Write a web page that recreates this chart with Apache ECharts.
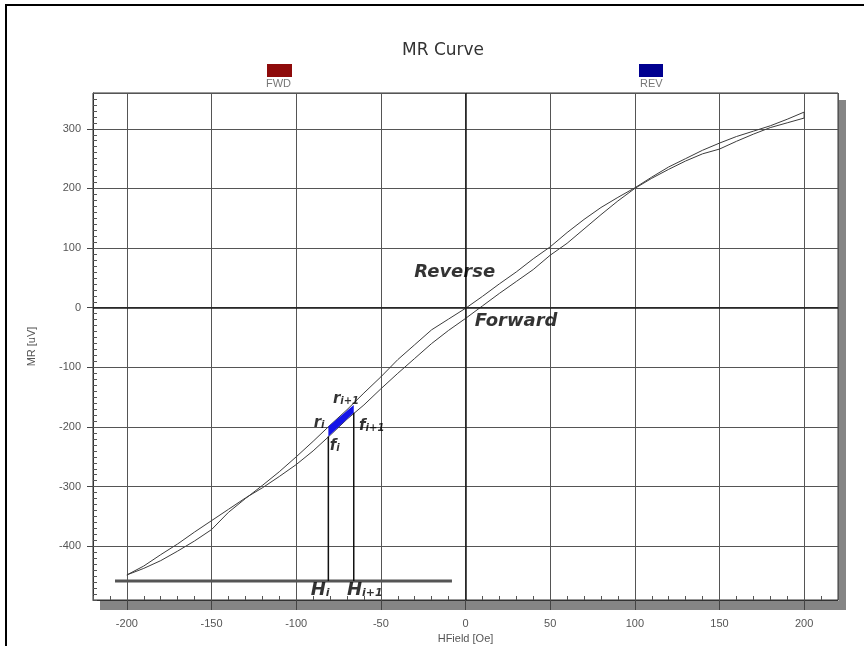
<!DOCTYPE html>
<html><head><meta charset="utf-8">
<script src="https://cdn.jsdelivr.net/npm/echarts@6/dist/echarts.min.js"></script>
<style>html,body{margin:0;padding:0;background:#fff}#c{width:864px;height:646px}</style>
</head><body><div id="c"></div>
<script>
// Forward sweep (-200 -> 200)
const fwdX = [-200,-190,-180,-170,-160,-150,-140,-130,-120,-110,-100,-90,-80,-70,-60,-50,-40,-30,-20,-10,0,10,20,30,40,50,60,70,80,90,100,110,120,130,140,150,160,170,180,190,200];
const fwdY = [-448,-433,-414,-396,-376,-357,-338,-319,-302,-283,-263,-240,-214,-187,-163,-136,-110,-85,-60,-38,-18,3,24,44,64,88,108,132,156,179,200,217,232,246,258,266,279,291,302,310,318];
// Reverse sweep (200 -> -200)
const revX = [200,190,180,170,160,150,140,130,120,110,100,90,80,70,60,50,40,30,20,10,0,-10,-20,-30,-40,-50,-60,-70,-80,-90,-100,-110,-120,-130,-140,-150,-160,-170,-180,-190,-200];
const revY = [328,316,305,296,287,276,264,250,236,219,201,185,168,148,126,102,82,60,40,19,-1,-19,-37,-62,-87,-116,-143,-171,-197,-224,-250,-275,-298,-320,-343,-372,-391,-408,-424,-437,-448];

// Integration strip annotation
const hX = [-81, -66];        // H_i, H_i+1
const rAtH = [-199, -163];    // r_i, r_i+1
const fAtH = [-216, -176];    // f_i, f_i+1
const baseX = [-207, -8];
const baseY = -458;

const xTicks = [-200,-150,-100,-50,0,50,100,150,200];
const yTicks = [-400,-300,-200,-100,0,100,200,300];

const labels = [
  [-6.4, 59.5, 'Reverse', 'big'],
  [29.9, -22.6, 'Forward', 'big'],
  [-86.5, -193.5, 'r|i', 'sm'],
  [-77.3, -232, 'f|i', 'sm'],
  [-70.6, -152.6, 'r|i+1', 'sm'],
  [-55.4, -198.5, 'f|i+1', 'sm'],
  [-85.8, -473, 'H|i', 'h'],
  [-59.5, -473, 'H|i+1', 'h']
];

const fwd = fwdX.map((x, i) => [x, fwdY[i]]);
const rev = [[fwdX[fwdX.length-1], fwdY[fwdY.length-1]]].concat(revX.map((x, i) => [x, revY[i]]));
const quad = [[hX[0], rAtH[0]], [hX[1], rAtH[1]], [hX[1], fAtH[1]], [hX[0], fAtH[0]]];

const chart = echarts.init(document.getElementById('c'));
const lblFont = "'Liberation Sans Narrow','Liberation Sans',Arial,sans-serif";
const bi = {fontFamily: 'DejaVu Sans', fontWeight: 'bold', fontStyle: 'italic', color: '#000'};

chart.setOption({
  animation: false,
  backgroundColor: '#fff',
  title: {text: 'MR Curve', left: 402, top: 42, padding: 0,
    textStyle: {fontFamily: 'DejaVu Sans', fontSize: 17, fontWeight: 'normal', color: '#333'}},
  legend: [
    {data: [{name: 'FWD', itemStyle: {color: '#8e0b0b'}}], left: 267, top: 64, padding: 0,
      icon: 'rect', itemWidth: 25, itemHeight: 13, formatter: () => '', selectedMode: false},
    {data: [{name: 'REV', itemStyle: {color: '#000090'}}], left: 639, top: 64, padding: 0,
      icon: 'rect', itemWidth: 24, itemHeight: 13, formatter: () => '', selectedMode: false}
  ],
  graphic: [
    {type: 'rect', z: -10, shape: {x: 6, y: 5, width: 900, height: 700}, style: {fill: 'none', stroke: '#000', lineWidth: 2}},
    {type: 'rect', z: -5, shape: {x: 839, y: 100, width: 7, height: 510}, style: {fill: '#858585'}},
    {type: 'rect', z: -5, shape: {x: 100, y: 601, width: 746, height: 9}, style: {fill: '#858585'}},
    {type: 'text', left: 266, top: 78, style: {text: 'FWD', fontSize: 11, fontFamily: lblFont, fill: '#777'}},
    {type: 'text', left: 640, top: 78, style: {text: 'REV', fontSize: 11, fontFamily: lblFont, fill: '#777'}}
  ],
  grid: {left: 93, top: 93, right: 26, bottom: 46, containLabel: false, outerBoundsMode: 'none',
    show: true, borderColor: '#333', borderWidth: 1, backgroundColor: '#fff'},
  xAxis: [
    {type: 'value', min: -220, max: 220, splitNumber: 9, name: 'HField [Oe]', nameLocation: 'middle', nameGap: 33,
      nameTextStyle: {fontFamily: lblFont, fontSize: 11, color: '#555'},
      axisLine: {show: true, onZero: false, lineStyle: {color: '#333'}},
      axisTick: {show: true, inside: false, length: 10, lineStyle: {color: '#444'}},
      axisLabel: {showMinLabel: false, showMaxLabel: false, margin: 18, fontFamily: lblFont, fontSize: 11, color: '#555',
        formatter: v => xTicks.includes(v) ? String(v) : ''},
      splitLine: {show: true, lineStyle: {color: '#555', width: 1}}},
    {type: 'value', min: -220, max: 220, interval: 10, position: 'bottom',
      axisLine: {show: false, onZero: false}, axisLabel: {show: false}, splitLine: {show: false},
      axisTick: {show: true, inside: true, length: 4, lineStyle: {color: '#555'}}}
  ],
  yAxis: [
    {type: 'value', min: -490, max: 360, splitNumber: 9, name: 'MR [uV]', nameLocation: 'middle', nameGap: 56,
      nameTextStyle: {fontFamily: lblFont, fontSize: 11, color: '#555'},
      axisLine: {show: true, onZero: false, lineStyle: {color: '#333'}},
      axisTick: {show: true, inside: false, length: 6, lineStyle: {color: '#444'}},
      axisLabel: {showMinLabel: false, showMaxLabel: false, margin: 12, fontFamily: lblFont, fontSize: 11, color: '#555',
        formatter: v => yTicks.includes(v) ? String(v) : ''},
      splitLine: {show: true, lineStyle: {color: '#555', width: 1}}},
    {type: 'value', min: -490, max: 360, interval: 10, position: 'left',
      axisLine: {show: false, onZero: false}, axisLabel: {show: false}, splitLine: {show: false},
      axisTick: {show: true, inside: true, length: 4, lineStyle: {color: '#555'}}}
  ],
  series: [
    {name: 'FWD', type: 'line', data: fwd, showSymbol: false, symbol: 'none',
      itemStyle: {color: '#8e0b0b'}, lineStyle: {color: '#3c3c3c', width: 1}, z: 3,
      markLine: {silent: true, symbol: 'none', label: {show: false}, lineStyle: {color: '#1a1a1a', width: 1.5, type: 'solid'},
        data: [{xAxis: 0}, {yAxis: 0}]}},
    {name: 'REV', type: 'line', data: rev, showSymbol: false, symbol: 'none',
      itemStyle: {color: '#000090'}, lineStyle: {color: '#3c3c3c', width: 1}, z: 3},
    {type: 'custom', z: 4, data: [quad[0]],
      renderItem: (params, api) => ({type: 'polygon', shape: {points: quad.map(p => api.coord(p))}, style: {fill: '#1515e8'}})},
    {type: 'line', data: [[baseX[0], baseY], [baseX[1], baseY]], showSymbol: false, symbol: 'none',
      lineStyle: {color: '#555', width: 3}, z: 4},
    {type: 'line', data: [[hX[0], baseY], [hX[0], fAtH[0]]], showSymbol: false, symbol: 'none',
      lineStyle: {color: '#111', width: 1.5}, z: 4},
    {type: 'line', data: [[hX[1], baseY], [hX[1], fAtH[1]]], showSymbol: false, symbol: 'none',
      lineStyle: {color: '#111', width: 1.5}, z: 4},
    {type: 'scatter', symbolSize: 0, z: 6, data: labels.map(l => ({value: [l[0], l[1]], name: l[2], kind: l[3]})),
      label: {show: true, position: 'inside',
        formatter: p => {
          const parts = p.name.split('|');
          const k = p.data.kind;
          if (k === 'big') return '{big|' + parts[0] + '}';
          if (k === 'h') return '{h|' + parts[0] + '}{hs|' + parts[1] + '}';
          return '{sm|' + parts[0] + '}{ss|' + parts[1] + '}';
        },
        rich: {
          big: Object.assign({fontSize: 18}, bi),
          h: Object.assign({fontSize: 18}, bi),
          hs: Object.assign({fontSize: 11, verticalAlign: 'bottom', padding: [6, 0, 0, 0]}, bi),
          sm: Object.assign({fontSize: 15}, bi),
          ss: Object.assign({fontSize: 10, verticalAlign: 'bottom', padding: [5, 0, 0, 0]}, bi)
        }}}
  ]
});
</script></body></html>
